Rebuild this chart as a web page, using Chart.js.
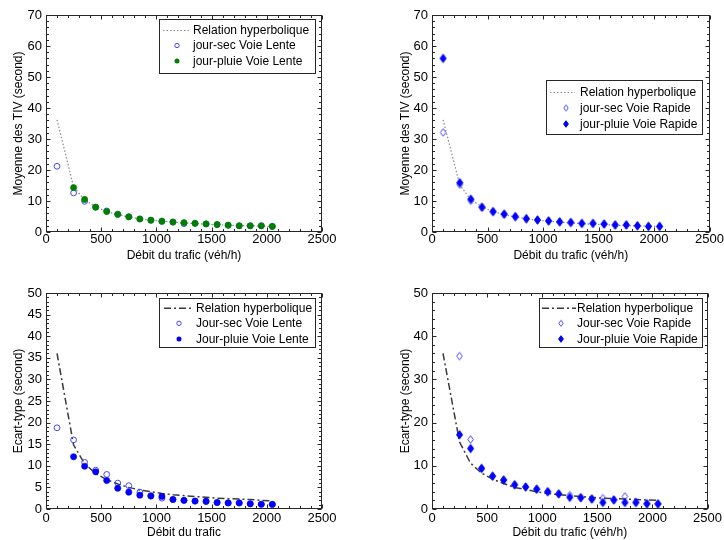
<!DOCTYPE html>
<html><head><meta charset="utf-8">
<script src="https://cdn.jsdelivr.net/npm/chart.js@4/dist/chart.umd.min.js"></script>
<style>
html,body{margin:0;padding:0;background:#fff}
body{width:724px;height:540px;position:relative;overflow:hidden}
.p{position:absolute;width:362px;height:270px}
canvas{display:block}
</style></head><body>
<div class="p" style="left:0;top:0"><canvas id="c1" width="362" height="270"></canvas></div>
<div class="p" style="left:362px;top:0"><canvas id="c2" width="362" height="270"></canvas></div>
<div class="p" style="left:0;top:270px"><canvas id="c3" width="362" height="270"></canvas></div>
<div class="p" style="left:362px;top:270px"><canvas id="c4" width="362" height="270"></canvas></div>
<script>
// ---------- data ----------
const debit = [100,250,350,450,550,650,750,850,950,1050,1150,1250,1350,1450,1550,1650,1750,1850,1950,2050];
const xTicks = [0,500,1000,1500,2000,2500];
const yTicksMoy = [0,10,20,30,40,50,60,70];
const yTicksEcartLente = [0,5,10,15,20,25,30,35,40,45,50];
const yTicksEcartRapide = [0,10,20,30,40,50];

const hyperMoyLente  = [36.2,14.5,10.4,8.1,6.6,5.6,4.8,4.3,3.8,3.5,3.2,2.9,2.7,2.5,2.35,2.2,2.1,2.0,1.9,1.8];
const moySecLente    = [21.2,12.6,9.9,8.0,6.8,5.7,4.9,4.2,3.8,3.4,3.2,2.7,2.8,2.6,2.4,2.2,2.0,2.0,2.0,1.8];
const moyPluieLente  = [null,14.3,10.5,8.0,6.6,5.7,4.9,4.2,3.8,3.5,3.2,3.0,2.8,2.6,2.4,2.2,2.0,2.0,2.0,1.8];

const hyperMoyRapide = [36.2,15.2,10.4,8.1,6.6,5.6,4.8,4.3,3.8,3.5,3.2,2.9,2.7,2.5,2.35,2.2,2.1,2.0,1.9,1.8];
const moySecRapide   = [32.1,15.3,10.1,8.0,6.5,5.6,4.8,4.2,3.8,3.5,3.2,3.0,2.7,2.7,2.5,2.2,2.2,2.0,1.8,1.8];
const moyPluieRapide = [56.0,15.9,10.6,8.0,6.6,5.8,5.0,4.3,3.9,3.6,3.3,3.1,2.8,2.8,2.6,2.3,2.3,2.0,1.8,1.8];

const hyperEcartLente  = [36.0,14.8,10.5,8.2,6.8,5.8,5.0,4.4,4.0,3.6,3.3,3.1,2.9,2.7,2.5,2.4,2.3,2.2,2.0,1.85];
const ecartSecLente    = [18.8,16.0,10.8,9.0,8.0,6.0,5.4,3.9,3.1,2.5,2.2,2.0,1.8,1.7,1.5,1.4,1.4,1.2,1.1,1.0];
const ecartPluieLente  = [null,12.1,9.9,8.6,6.6,4.8,3.9,3.2,3.0,2.9,2.2,2.0,1.85,1.8,1.5,1.4,1.4,1.2,1.1,1.1];

const hyperEcartRapide = [36.0,15.5,10.6,8.3,6.9,5.9,5.0,4.5,4.0,3.6,3.3,3.1,2.9,2.7,2.5,2.4,2.3,2.2,2.1,2.0];
const ecartSecRapide   = [null,35.4,16.1,9.4,7.6,6.7,5.6,5.1,4.6,4.0,3.5,3.2,2.7,2.4,2.5,2.1,2.9,1.6,1.3,1.2];
const ecartPluieRapide = [null,17.2,14.0,9.4,7.6,6.7,5.6,5.1,4.6,4.0,3.5,2.7,2.6,2.3,1.5,2.1,1.5,1.5,1.2,1.2];

// ---------- styling helpers ----------
const FONT = "'Liberation Sans', Arial, sans-serif";
const OPEN_BLUE = '#4646ff', BLUE = '#0000ff', GREEN = '#007f00';

function makeDiamond(hw, hh, fill, stroke) {
  const c = document.createElement('canvas');
  const W = Math.ceil(hw*2+3), H = Math.ceil(hh*2+3);
  c.width = W; c.height = H;
  const g = c.getContext('2d');
  const cx = W/2, cy = H/2;
  g.beginPath(); g.moveTo(cx, cy-hh); g.lineTo(cx+hw, cy); g.lineTo(cx, cy+hh); g.lineTo(cx-hw, cy); g.closePath();
  if (fill) { g.fillStyle = fill; g.fill(); }
  if (stroke) { g.strokeStyle = stroke; g.lineWidth = 1; g.stroke(); }
  return c;
}
const diamondOpen = makeDiamond(2.8, 3.8, null, OPEN_BLUE);
const diamondFill = makeDiamond(3.0, 4.2, BLUE, BLUE);
const diamondOpenSmall = makeDiamond(2.2, 3.0, null, OPEN_BLUE);
const diamondFillSmall = makeDiamond(2.4, 3.3, BLUE, BLUE);

const pts = arr => debit.map((x,i)=>({x, y: arr[i]}));

function lineDotted(data){ return {label:'Relation hyperbolique', data: pts(data), showLine:true, borderColor:'#8a8a8a', borderWidth:1.2, borderDash:[1.5,2], pointRadius:0, order:3, _kind:'line'}; }
function lineDashDot(data){ return {label:'Relation hyperbolique', data: pts(data), showLine:true, borderColor:'#3a3a3a', borderWidth:1.5, borderDash:[7,3,2,3], pointRadius:0, order:3, _kind:'line'}; }
function openCircle(label,data){ return {label, data: pts(data), showLine:false, pointStyle:'circle', pointRadius:2.9, pointBorderWidth:1, pointBorderColor:OPEN_BLUE, pointBackgroundColor:'rgba(0,0,0,0)', order:2, _kind:'openCircle'}; }
function fillCircle(label,data,color){ return {label, data: pts(data), showLine:false, pointStyle:'circle', pointRadius:3.1, pointBorderWidth:0.6, pointBorderColor:color, pointBackgroundColor:color, order:1, _kind:'fillCircle', _color:color}; }
function openDiamond(label,data){ return {label, data: pts(data), showLine:false, pointStyle:diamondOpen, pointRadius:3, order:2, _kind:'openDiamond'}; }
function fillDiamond(label,data){ return {label, data: pts(data), showLine:false, pointStyle:diamondFill, pointRadius:3, order:1, _kind:'fillDiamond'}; }

// ---------- plugins ----------
const frameTicks = {
  id:'frameTicks',
  afterDatasetsDraw(chart, args, o) {
    const {ctx, chartArea:a, scales:{x,y}} = chart;
    ctx.save();
    ctx.strokeStyle = '#262626'; ctx.lineWidth = 1;
    const L = Math.round(a.left)+0.5, R = Math.round(a.right)-0.5, T = Math.round(a.top)+0.5, B = Math.round(a.bottom)-0.5;
    ctx.beginPath();
    const isMajor = (s, v) => s.ticks.some(t => Math.abs(t.value - v) < 1e-6);
    for (let v = x.min; v <= x.max + 1e-9; v += o.xMinor) {
      const px = Math.round(x.getPixelForValue(v)) + 0.5;
      const len = isMajor(x, v) ? 4 : 2.5;
      ctx.moveTo(px, B); ctx.lineTo(px, B - len);
      ctx.moveTo(px, T); ctx.lineTo(px, T + len);
    }
    for (let v = y.min; v <= y.max + 1e-9; v += o.yMinor) {
      const py = Math.round(y.getPixelForValue(v)) + 0.5;
      const len = isMajor(y, v) ? 4 : 2.5;
      ctx.moveTo(L, py); ctx.lineTo(L + len, py);
      ctx.moveTo(R, py); ctx.lineTo(R - len, py);
    }
    ctx.stroke();
    ctx.strokeRect(L, T, R-L, B-T);
    ctx.restore();
  }
};

const legendBox = {
  id:'legendBox',
  afterDraw(chart, args, o) {
    const ctx = chart.ctx;
    const [x1,y1,x2,y2] = o.box;
    ctx.save();
    ctx.fillStyle = '#fff';
    ctx.fillRect(x1, y1, x2-x1, y2-y1);
    ctx.strokeStyle = '#262626'; ctx.lineWidth = 1;
    ctx.strokeRect(x1+0.5, y1+0.5, x2-x1-1, y2-y1-1);
    ctx.font = '12px ' + FONT;
    ctx.textBaseline = 'middle';
    ctx.fillStyle = '#000';
    const dss = o.order.map(i => chart.data.datasets[i]);
    dss.forEach((ds, k) => {
      const ry = o.rows[k];
      if (ds._kind === 'line') {
        ctx.save();
        ctx.strokeStyle = ds.borderColor; ctx.lineWidth = ds.borderWidth;
        ctx.setLineDash(ds.borderDash);
        ctx.beginPath(); ctx.moveTo(o.lineX[0], ry+0.5); ctx.lineTo(o.lineX[1], ry+0.5); ctx.stroke();
        ctx.restore();
      } else if (ds._kind === 'openCircle') {
        ctx.beginPath(); ctx.arc(o.markerX, ry, 2.2, 0, Math.PI*2);
        ctx.strokeStyle = OPEN_BLUE; ctx.lineWidth = 1; ctx.stroke();
      } else if (ds._kind === 'fillCircle') {
        ctx.beginPath(); ctx.arc(o.markerX, ry, 2.5, 0, Math.PI*2);
        ctx.fillStyle = ds._color; ctx.fill();
      } else if (ds._kind === 'openDiamond') {
        ctx.drawImage(diamondOpenSmall, o.markerX - diamondOpenSmall.width/2, ry - diamondOpenSmall.height/2);
      } else if (ds._kind === 'fillDiamond') {
        ctx.drawImage(diamondFillSmall, o.markerX - diamondFillSmall.width/2, ry - diamondFillSmall.height/2);
      }
      ctx.fillStyle = '#000';
      ctx.fillText(ds.label, o.textX, ry + 0.5);
    });
    ctx.restore();
  }
};

function makeChart(id, p) {
  return new Chart(document.getElementById(id), {
    type: 'scatter',
    data: { datasets: p.datasets },
    plugins: [frameTicks, legendBox],
    options: {
      responsive: false, animation: false, devicePixelRatio: 1,
      layout: { padding: { left: 0, top: p.padTop, right: p.padRight, bottom: 0 } },
      plugins: {
        legend: { display: false }, tooltip: { enabled: false },
        frameTicks: { xMinor: 100, yMinor: p.yMinor },
        legendBox: p.legend
      },
      scales: {
        x: {
          type: 'linear', min: 0, max: 2500,
          afterBuildTicks: s => { s.ticks = xTicks.map(v => ({value: v})); },
          afterFit: s => { s.height = p.xHeight; },
          grid: { display: false, drawTicks: false }, border: { display: false },
          ticks: { color: '#000', padding: p.xTickPad, font: { family: FONT, size: 13 }, maxRotation: 0, autoSkip: false, callback: v => String(v) },
          title: { display: true, text: p.xTitle, color: '#000', font: { family: FONT, size: 12 }, padding: { top: 0, bottom: p.xTitlePad } }
        },
        y: {
          type: 'linear', min: 0, max: p.yTicks[p.yTicks.length-1],
          afterBuildTicks: s => { s.ticks = p.yTicks.map(v => ({value: v})); },
          afterFit: s => { s.width = p.yWidth; },
          grid: { display: false, drawTicks: false }, border: { display: false },
          ticks: { color: '#000', padding: 4, font: { family: FONT, size: 13 }, autoSkip: false, callback: v => String(v) },
          title: { display: true, text: p.yTitle, color: '#000', font: { family: FONT, size: 12 }, padding: { top: p.yTitlePad, bottom: 0 } }
        }
      }
    }
  });
}

const XT = 'Débit du trafic (véh/h)';

makeChart('c1', {
  datasets: [ lineDotted(hyperMoyLente), openCircle('jour-sec Voie Lente', moySecLente), fillCircle('jour-pluie Voie Lente', moyPluieLente, GREEN) ],
  yTicks: yTicksMoy, yMinor: 2, yTitle: 'Moyenne des TIV (second)', xTitle: XT,
  padTop: 15, padRight: 40, yWidth: 46, xHeight: 38, xTickPad: 0, xTitlePad: 7, yTitlePad: 11,
  legend: { box:[159,19,316,74], rows:[30,45.5,61], lineX:[163,191], markerX:177, textX:193, order:[0,1,2] }
});
makeChart('c2', {
  datasets: [ lineDotted(hyperMoyRapide), openDiamond('jour-sec Voie Rapide', moySecRapide), fillDiamond('jour-pluie Voie Rapide', moyPluieRapide) ],
  yTicks: yTicksMoy, yMinor: 2, yTitle: 'Moyenne des TIV (second)', xTitle: XT,
  padTop: 15, padRight: 14, yWidth: 70, xHeight: 38, xTickPad: 0, xTitlePad: 7, yTitlePad: 36,
  legend: { box:[184,80,341,135], rows:[92,108,124], lineX:[188,213], markerX:204, textX:218, order:[0,1,2] }
});
makeChart('c3', {
  datasets: [ lineDashDot(hyperEcartLente), openCircle('Jour-sec Voie Lente', ecartSecLente), fillCircle('Jour-pluie Voie Lente', ecartPluieLente, BLUE) ],
  yTicks: yTicksEcartLente, yMinor: 1, yTitle: 'Ecart-type (second)', xTitle: 'Débit du trafic',
  padTop: 23, padRight: 40, yWidth: 46, xHeight: 31, xTickPad: 2, xTitlePad: 0, yTitlePad: 11,
  legend: { box:[159,28,316,78], rows:[37.7,53.3,69], lineX:[164,194], markerX:179, textX:196, order:[0,1,2] }
});
makeChart('c4', {
  datasets: [ lineDashDot(hyperEcartRapide), openDiamond('Jour-sec Voie Rapide', ecartSecRapide), fillDiamond('Jour-pluie Voie Rapide', ecartPluieRapide) ],
  yTicks: yTicksEcartRapide, yMinor: 2, yTitle: 'Ecart-type (second)', xTitle: XT,
  padTop: 23, padRight: 14, yWidth: 70, xHeight: 31, xTickPad: 2, xTitlePad: 0, yTitlePad: 36,
  legend: { box:[177,28,341,78], rows:[37.7,53.3,69], lineX:[180,214], markerX:199, textX:215, order:[0,1,2] }
});
</script>
</body></html>
